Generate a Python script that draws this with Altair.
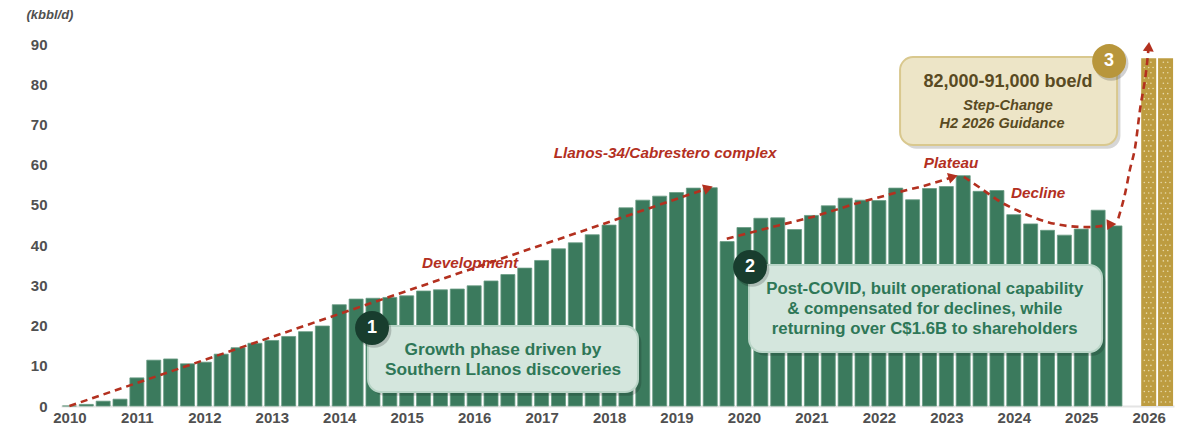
import altair as alt
import pandas as pd

# ---------------- data ----------------
year_ticks = list(range(2010, 2027))
# quarterly production, kbbl/d, 2010 Q1 .. 2025 Q3
production = [
    0.0, 0.4, 1.2, 1.7,
    7.0, 11.4, 11.7, 10.5,
    10.9, 12.9, 14.5, 15.6,
    16.3, 17.3, 18.5, 19.9,
    25.2, 26.6, 26.8, 27.0,
    27.4, 28.6, 28.9, 29.1,
    29.9, 31.1, 32.7, 34.3,
    36.2, 39.1, 40.6, 42.6,
    45.0, 49.3, 51.2, 52.2,
    53.1, 54.2, 54.3, 40.9,
    44.4, 46.7, 46.8, 43.9,
    47.4, 49.8, 51.7, 51.2,
    51.1, 54.2, 51.3, 54.1,
    54.6, 57.3, 53.4, 53.6,
    47.6, 45.3, 43.7, 42.5,
    44.0, 48.7, 44.8,
]
guidance_t = [2026.0, 2026.25]
guidance = [86.5, 86.5]

# trend paths (time, kbbl/d)
dev_t = [2010.0, 2019.47]
dev_v = [0.0, 54.2]
post_t = [2019.745, 2020.51, 2021.03, 2021.67, 2022.22, 2022.76, 2023.1]
post_v = [41.6, 44.9, 47.1, 50.4, 52.9, 55.2, 57.0]
decl_t = [2023.26, 2023.55, 2023.8, 2024.1, 2024.49, 2024.84, 2025.1, 2025.45]
decl_v = [57.0, 53.7, 50.8, 48.3, 45.8, 44.7, 44.5, 45.2]
step_t = [2025.55, 2025.65, 2025.72, 2025.8, 2025.87, 2025.97, 2026.0]
step_v = [46.7, 52.9, 58.7, 64.5, 73.6, 84.4, 89.4]

# ---------------- styles ----------------
FONT = "Liberation Sans"
GREEN = "#3b7a5d"
GOLD = "#bd9c40"
RED = "#b3301f"
GREY = "#505050"

X_DOMAIN = [2009.875, 2026.375]
Y_DOMAIN = [0, 97.76]

bars_df = pd.DataFrame({
    "t": [2010 + 0.25 * i for i in range(len(production))],
    "v": production,
})
gold_df = pd.DataFrame({"t": guidance_t, "v": guidance})

# dotted texture for the guidance bars
dots = []
for c, val in zip(guidance_t, guidance):
    r = 0
    yv = 1.0
    while yv < val - 0.5:
        offs = [-0.065, 0.0, 0.065] if r % 2 == 0 else [-0.0325, 0.0325]
        for o in offs:
            dots.append({"t": c + o, "v": yv})
        yv += 1.3
        r += 1
dots_df = pd.DataFrame(dots)


def xq(field="t"):
    return alt.X(f"{field}:Q",
                 scale=alt.Scale(domain=X_DOMAIN, nice=False, zero=False, padding=0),
                 axis=alt.Axis(values=year_ticks, format="d", title=None, grid=False,
                               ticks=False, labelFont=FONT, labelFontSize=15,
                               labelFontWeight="bold", labelColor=GREY, labelPadding=4,
                               domainColor="#e4e4e4", domainWidth=2))


def yq(field="v"):
    return alt.Y(f"{field}:Q", scale=alt.Scale(domain=Y_DOMAIN, nice=False, padding=0),
                 axis=alt.Axis(values=list(range(0, 100, 10)), title="(kbbl/d)",
                               grid=False, ticks=False, domain=False,
                               labelFont=FONT, labelFontSize=15, labelFontWeight="bold",
                               labelColor=GREY, labelPadding=14,
                               titleAngle=0, titleX=-35, titleY=1, titleAlign="left",
                               titleBaseline="middle", titleFont=FONT, titleFontSize=13,
                               titleFontWeight="bold", titleFontStyle="italic",
                               titleColor=GREY))


bars = alt.Chart(bars_df).mark_bar(size=14, color=GREEN, stroke="#6a9c84",
                                   strokeWidth=0.8).encode(x=xq(), y=yq())
gold = alt.Chart(gold_df).mark_bar(size=15, color=GOLD).encode(x=xq(), y=yq())
dot_layer = alt.Chart(dots_df).mark_point(shape="circle", filled=True, size=2.5,
                                          color="#f2eac6", opacity=0.8).encode(x=xq(), y=yq())


def path(ts, vs, interp):
    df = pd.DataFrame({"t": ts, "v": vs, "o": list(range(len(ts)))})
    return alt.Chart(df).mark_line(color=RED, strokeWidth=2.6, strokeDash=[7, 5],
                                   interpolate=interp).encode(x=xq(), y=yq(), order="o:Q")


def arrow(ts, vs, ang):
    df = pd.DataFrame({"t": [ts[-1]], "v": [vs[-1]]})
    return alt.Chart(df).mark_point(shape="triangle-up", filled=True, size=120,
                                    color=RED, opacity=1, angle=ang).encode(x=xq(), y=yq())


lines = [
    path(dev_t, dev_v, "linear"), arrow(dev_t, dev_v, 71),
    path(post_t, post_v, "monotone"), arrow(post_t, post_v, 74),
    path(decl_t, decl_v, "monotone"), arrow(decl_t, decl_v, 86),
    path(step_t, step_v, "monotone"), arrow(step_t, step_v, 5),
]

# red phase labels
red_df = pd.DataFrame({
    "t": [2018.83, 2015.94, 2023.07, 2024.36],
    "v": [62.93, 35.57, 60.4, 52.98],
    "txt": ["Llanos-34/Cabrestero complex", "Development", "Plateau", "Decline"],
})
red_labels = alt.Chart(red_df).mark_text(font=FONT, fontSize=15.3, fontWeight="bold",
                                         fontStyle="italic", color=RED).encode(
    x=xq(), y=yq(), text="txt:N")

# callout boxes
boxes_df = pd.DataFrame({
    "t": [2014.427, 2020.075, 2022.314],
    "t2": [2018.429, 2025.309, 2025.531],
    "v": [19.9, 35.07, 86.8],
    "v2": [3.48, 13.43, 64.9],
    "fill": ["#d4e6dd", "#d4e6dd", "#ede5c7"],
    "stroke": ["#b9d5c7", "#b9d5c7", "#d9c88e"],
})
shadow_df = boxes_df.assign(t=boxes_df.t + 0.05, t2=boxes_df.t2 + 0.05,
                            v=boxes_df.v - 0.9, v2=boxes_df.v2 - 0.9)
shadows = alt.Chart(shadow_df).mark_rect(cornerRadius=13, color="#000000", opacity=0.16).encode(
    x=xq(), x2="t2:Q", y=yq(), y2="v2:Q")
boxes = alt.Chart(boxes_df).mark_rect(cornerRadius=13, strokeWidth=2).encode(
    x=xq(), x2="t2:Q", y=yq(), y2="v2:Q",
    fill=alt.Fill("fill:N", scale=None), stroke=alt.Stroke("stroke:N", scale=None))

circ_df = pd.DataFrame({
    "t": [2014.486, 2020.09, 2025.413],
    "v": [19.4, 34.57, 85.8],
    "num": ["1", "2", "3"],
    "fill": ["#183d2e", "#183d2e", "#b8963b"],
})
circ_shadow = alt.Chart(circ_df.assign(t=circ_df.t + 0.03, v=circ_df.v - 0.6)).mark_point(
    shape="circle", filled=True, size=1200, color="#000000", opacity=0.18).encode(x=xq(), y=yq())
circles = alt.Chart(circ_df).mark_point(shape="circle", filled=True, size=1150, opacity=1).encode(
    x=xq(), y=yq(), fill=alt.Fill("fill:N", scale=None))
circ_txt = alt.Chart(circ_df).mark_text(font=FONT, fontSize=18, fontWeight="bold",
                                        color="white", baseline="middle").encode(
    x=xq(), y=yq(), text="num:N")

green_txt_df = pd.DataFrame({
    "t": [2016.428, 2016.428, 2022.68, 2022.68, 2022.68],
    "v": [13.93, 8.95, 29.1, 24.1, 19.15],
    "txt": ["Growth phase driven by", "Southern Llanos discoveries",
            "Post-COVID, built operational capability",
            "& compensated for declines, while",
            "returning over C$1.6B to shareholders"],
    "size": [17.3, 17.3, 16.8, 16.8, 16.8],
})
green_txt = alt.Chart(green_txt_df).mark_text(font=FONT, fontWeight="bold", color="#2e7757",
                                              baseline="middle").encode(
    x=xq(), y=yq(), text="txt:N", size=alt.Size("size:Q", scale=None))

gold_head = alt.Chart(pd.DataFrame({"t": [2023.915], "v": [80.58],
                                    "txt": ["82,000-91,000 boe/d"]})).mark_text(
    font=FONT, fontSize=18, fontWeight="bold", color="#594a22", baseline="middle").encode(
    x=xq(), y=yq(), text="txt:N")
gold_sub = alt.Chart(pd.DataFrame({"t": [2023.915, 2023.826], "v": [74.6, 70.1],
                                   "txt": ["Step-Change", "H2 2026 Guidance"]})).mark_text(
    font=FONT, fontSize=14.5, fontWeight="bold", fontStyle="italic", color="#594a22",
    baseline="middle").encode(x=xq(), y=yq(), text="txt:N")

chart = alt.layer(
    bars, gold, dot_layer, *lines, red_labels, shadows, boxes,
    circ_shadow, circles, circ_txt, green_txt, gold_head, gold_sub,
).properties(
    width=1113, height=393,
    padding={"left": 53, "top": 5, "right": 10, "bottom": 19},
    autosize=alt.AutoSizeParams(type="none"),
    background="white",
).configure_view(strokeWidth=0, stroke="transparent")

chart.save("out.html", embed_options={"renderer": "svg", "actions": False})
